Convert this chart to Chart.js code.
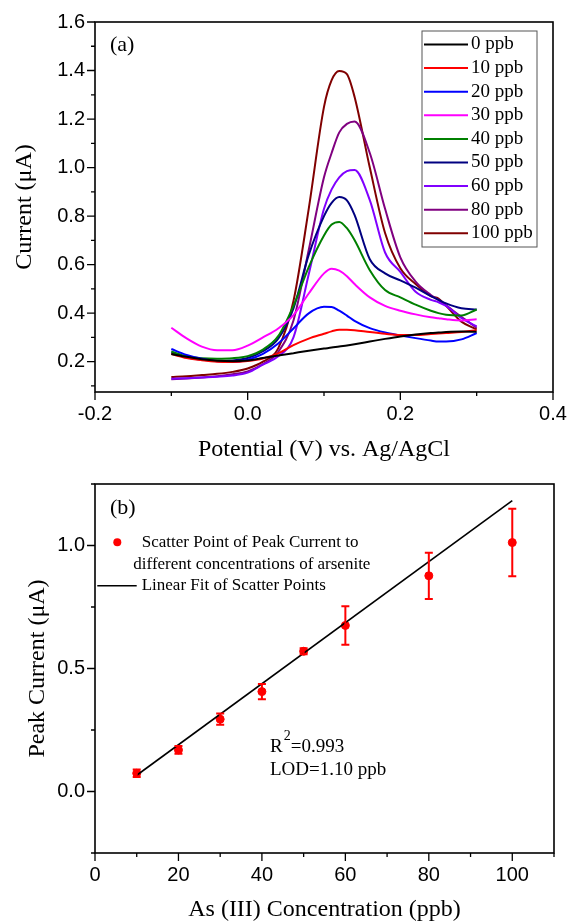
<!DOCTYPE html>
<html lang="en">
<head>
    <meta charset="UTF-8">
    <title>As(III) stripping response</title>
    <script src="https://cdn.jsdelivr.net/npm/chart.js"></script>
    <style>
        html, body { margin: 0; padding: 0; background: #fff; }
        canvas { display: block; }
    </style>
</head>
<body>
<canvas id="chartA" width="569" height="462"></canvas>
<canvas id="chartB" width="569" height="462"></canvas>
<script>
// ---- panel (a): DPV curves ----
const potential = [-0.1, -0.08, -0.06, -0.04, -0.02, 0, 0.02, 0.04, 0.06, 0.08, 0.1, 0.11, 0.12, 0.13, 0.14, 0.16, 0.18, 0.2, 0.22, 0.24, 0.25, 0.26, 0.28, 0.3];
const i0   = [0.232, 0.220, 0.210, 0.204, 0.202, 0.205, 0.215, 0.225, 0.235, 0.245, 0.254, 0.258, 0.263, 0.267, 0.272, 0.283, 0.294, 0.304, 0.312, 0.318, 0.320, 0.322, 0.324, 0.323];
const i10  = [0.231, 0.215, 0.206, 0.200, 0.199, 0.203, 0.213, 0.234, 0.268, 0.295, 0.315, 0.325, 0.332, 0.332, 0.330, 0.322, 0.315, 0.310, 0.310, 0.314, 0.316, 0.318, 0.322, 0.330];
const i20  = [0.252, 0.228, 0.212, 0.202, 0.199, 0.208, 0.232, 0.275, 0.337, 0.399, 0.426, 0.425, 0.410, 0.390, 0.368, 0.338, 0.320, 0.308, 0.297, 0.287, 0.283, 0.283, 0.292, 0.318];
const i30  = [0.340, 0.296, 0.262, 0.247, 0.247, 0.266, 0.300, 0.337, 0.392, 0.481, 0.564, 0.583, 0.575, 0.552, 0.520, 0.465, 0.430, 0.410, 0.395, 0.383, 0.379, 0.375, 0.370, 0.375];
const i40  = [0.242, 0.222, 0.214, 0.212, 0.214, 0.223, 0.250, 0.305, 0.430, 0.590, 0.720, 0.765, 0.776, 0.750, 0.701, 0.577, 0.495, 0.465, 0.435, 0.410, 0.400, 0.393, 0.390, 0.415];
const i50  = [0.238, 0.218, 0.208, 0.204, 0.205, 0.215, 0.243, 0.295, 0.420, 0.640, 0.800, 0.855, 0.879, 0.865, 0.805, 0.622, 0.564, 0.535, 0.505, 0.470, 0.455, 0.440, 0.420, 0.415];
const i60  = [0.130, 0.132, 0.135, 0.138, 0.143, 0.155, 0.188, 0.222, 0.300, 0.560, 0.830, 0.910, 0.960, 0.985, 0.990, 0.866, 0.650, 0.570, 0.488, 0.455, 0.445, 0.430, 0.380, 0.345];
const i80  = [0.128, 0.131, 0.135, 0.140, 0.148, 0.160, 0.190, 0.240, 0.370, 0.660, 0.960, 1.060, 1.145, 1.180, 1.190, 1.060, 0.830, 0.630, 0.530, 0.475, 0.455, 0.432, 0.385, 0.340];
const i100 = [0.137, 0.140, 0.145, 0.150, 0.158, 0.172, 0.200, 0.255, 0.450, 0.830, 1.250, 1.360, 1.398, 1.385, 1.292, 1.000, 0.730, 0.585, 0.520, 0.470, 0.460, 0.430, 0.365, 0.333];
const curveLabels = ['0 ppb', '10 ppb', '20 ppb', '30 ppb', '40 ppb', '50 ppb', '60 ppb', '80 ppb', '100 ppb'];
const curves = [i0, i10, i20, i30, i40, i50, i60, i80, i100];
const curveColors = ['#000000', '#ff0000', '#0000ff', '#ff00ff', '#008000', '#000080', '#8000ff', '#800080', '#800000'];
const xTicksA = [-0.2, 0, 0.2, 0.4];
const xMinorA = [-0.1, 0.1, 0.3];
const yTicksA = [0.2, 0.4, 0.6, 0.8, 1.0, 1.2, 1.4, 1.6];
const yMinorA = [0.1, 0.3, 0.5, 0.7, 0.9, 1.1, 1.3, 1.5];

// ---- panel (b): calibration ----
const conc = [10, 20, 30, 40, 50, 60, 80, 100];
const peakCurrent = [0.074, 0.169, 0.294, 0.406, 0.570, 0.675, 0.877, 1.012];
const peakErr = [0.015, 0.016, 0.023, 0.031, 0.012, 0.078, 0.094, 0.137];
const fitX = [10, 100];
const fitY = [0.066, 1.182];
const xTicksB = [0, 20, 40, 60, 80, 100];
const xMinorB = [10, 30, 50, 70, 90, 110];
const yTicksB = [0, 0.5, 1.0];
const yMinorB = [-0.25, 0.25, 0.75, 1.25];

const SERIF = "'Liberation Serif', 'Times New Roman', serif";
const SANS = "'Liberation Sans', Arial, sans-serif";

// box round the plot + outward tick marks (major 8px, minor 4px)
function framePlugin(xMinor, yMinor) {
    return {
        id: 'frame',
        afterDraw(chart) {
            const { ctx, chartArea: a, scales: { x, y } } = chart;
            ctx.save();
            ctx.strokeStyle = '#000';
            ctx.lineWidth = 1.6;
            ctx.strokeRect(a.left, a.top, a.right - a.left, a.bottom - a.top);
            ctx.lineWidth = 1.3;
            ctx.beginPath();
            x.ticks.forEach(t => { const p = x.getPixelForValue(t.value); ctx.moveTo(p, a.bottom); ctx.lineTo(p, a.bottom + 8); });
            xMinor.forEach(v => { const p = x.getPixelForValue(v); ctx.moveTo(p, a.bottom); ctx.lineTo(p, a.bottom + 4); });
            y.ticks.forEach(t => { const p = y.getPixelForValue(t.value); ctx.moveTo(a.left, p); ctx.lineTo(a.left - 8, p); });
            yMinor.forEach(v => { const p = y.getPixelForValue(v); ctx.moveTo(a.left, p); ctx.lineTo(a.left - 4, p); });
            ctx.stroke();
            ctx.restore();
        }
    };
}

function axis(min, max, ticks, title, size, titlePad, fmt) {
    return {
        type: 'linear', min: min, max: max,
        afterBuildTicks: s => { s.ticks = ticks.map(v => ({ value: v })); },
        afterFit: s => {
            if (s.isHorizontal()) s.height = size; else s.width = size;
            // keep the plot box where the layout padding puts it
            s.paddingLeft = 0; s.paddingRight = 0; s.paddingTop = 0; s.paddingBottom = 0;
        },
        grid: { display: false, drawTicks: false },
        border: { display: false },
        ticks: { padding: 10, color: '#000', font: { family: SANS, size: 20 }, callback: fmt },
        title: { display: true, text: title, color: '#000', font: { family: SERIF, size: 24, lineHeight: 1 }, padding: titlePad }
    };
}

const legendA = {
    id: 'legendA',
    afterDraw(chart) {
        const { ctx, chartArea: a } = chart;
        const bx = a.right - 131, by = a.top + 9;
        ctx.save();
        ctx.strokeStyle = '#555';
        ctx.lineWidth = 1;
        ctx.strokeRect(bx, by, 115, 216);
        ctx.font = '19px ' + SERIF;
        ctx.textBaseline = 'middle';
        ctx.fillStyle = '#000';
        chart.data.datasets.forEach((d, i) => {
            const yy = by + 13.5 + i * 23.6;
            ctx.strokeStyle = d.borderColor;
            ctx.lineWidth = 2;
            ctx.beginPath();
            ctx.moveTo(bx + 2, yy);
            ctx.lineTo(bx + 46, yy);
            ctx.stroke();
            ctx.fillText(d.label, bx + 49, yy);
        });
        ctx.font = '22px ' + SERIF;
        ctx.fillText('(a)', a.left + 15, a.top + 23);
        ctx.restore();
    }
};

new Chart(document.getElementById('chartA'), {
    type: 'line',
    data: {
        datasets: curves.map((c, i) => ({
            label: curveLabels[i],
            data: potential.map((p, j) => ({ x: p, y: c[j] })),
            borderColor: curveColors[i],
            borderWidth: 2,
            pointRadius: 0,
            cubicInterpolationMode: 'monotone',
            fill: false
        }))
    },
    options: {
        responsive: false,
        animation: false,
        layout: { padding: { top: 22, right: 16, left: 0, bottom: 0 } },
        plugins: { legend: { display: false }, tooltip: { enabled: false } },
        scales: {
            x: axis(-0.2, 0.4, xTicksA, 'Potential (V) vs. Ag/AgCl', 70, { top: 0, bottom: 0 }, v => v.toFixed(1)),
            y: axis(0.075, 1.6, yTicksA, 'Current (\u03bcA)', 95, { top: 12.5, bottom: 0 }, v => v.toFixed(1))
        }
    },
    plugins: [framePlugin(xMinorA, yMinorA), legendA]
});

const errorBars = {
    id: 'errorBars',
    afterDatasetsDraw(chart) {
        const { ctx, scales: { x, y } } = chart;
        ctx.save();
        ctx.strokeStyle = '#ff0000';
        ctx.lineWidth = 2;
        ctx.beginPath();
        conc.forEach((c, i) => {
            const px = x.getPixelForValue(c);
            const top = y.getPixelForValue(peakCurrent[i] + peakErr[i]);
            const bot = y.getPixelForValue(peakCurrent[i] - peakErr[i]);
            ctx.moveTo(px, top); ctx.lineTo(px, bot);
            ctx.moveTo(px - 4, top); ctx.lineTo(px + 4, top);
            ctx.moveTo(px - 4, bot); ctx.lineTo(px + 4, bot);
        });
        ctx.stroke();
        ctx.restore();
    }
};

const legendB = {
    id: 'legendB',
    afterDraw(chart) {
        const { ctx, chartArea: a } = chart;
        ctx.save();
        ctx.fillStyle = '#ff0000';
        ctx.beginPath();
        ctx.arc(a.left + 22.3, a.top + 58.3, 4, 0, Math.PI * 2);
        ctx.fill();
        ctx.strokeStyle = '#000';
        ctx.lineWidth = 1.6;
        ctx.beginPath();
        ctx.moveTo(a.left + 2.3, a.top + 101.7);
        ctx.lineTo(a.left + 41.7, a.top + 101.7);
        ctx.stroke();
        ctx.fillStyle = '#000';
        ctx.textBaseline = 'middle';
        ctx.font = '17px ' + SERIF;
        ctx.fillText('Scatter Point of Peak Current to', a.left + 46.7, a.top + 58.3);
        ctx.fillText('different concentrations of arsenite', a.left + 38.3, a.top + 80.3);
        ctx.fillText('Linear Fit of Scatter Points', a.left + 46.7, a.top + 101.7);
        ctx.font = '22px ' + SERIF;
        ctx.fillText('(b)', a.left + 15, a.top + 24);
        // R^2 and LOD
        let tx = a.left + 175;
        const ry = a.top + 262.7;
        ctx.font = '19px ' + SERIF;
        ctx.fillText('R', tx, ry);
        tx += ctx.measureText('R').width + 1;
        ctx.font = '14px ' + SERIF;
        ctx.fillText('2', tx, ry - 10);
        tx += ctx.measureText('2').width;
        ctx.font = '19px ' + SERIF;
        ctx.fillText('=0.993', tx, ry);
        ctx.fillText('LOD=1.10 ppb', a.left + 175, a.top + 286);
        ctx.restore();
    }
};

new Chart(document.getElementById('chartB'), {
    type: 'scatter',
    data: {
        datasets: [
            {
                label: 'Linear Fit of Scatter Points',
                data: fitX.map((v, i) => ({ x: v, y: fitY[i] })),
                showLine: true,
                borderColor: '#000',
                borderWidth: 1.6,
                pointRadius: 0
            },
            {
                label: 'Scatter Point of Peak Current to different concentrations of arsenite',
                data: conc.map((c, i) => ({ x: c, y: peakCurrent[i] })),
                backgroundColor: '#ff0000',
                borderColor: '#ff0000',
                pointRadius: 4
            }
        ]
    },
    options: {
        responsive: false,
        animation: false,
        layout: { padding: { top: 22, right: 15, left: 0, bottom: 0 } },
        plugins: { legend: { display: false }, tooltip: { enabled: false } },
        scales: {
            x: axis(0, 110, xTicksB, 'As (III) Concentration (ppb)', 71, { top: 0, bottom: 2 }, v => String(v)),
            y: axis(-0.25, 1.25, yTicksB, 'Peak Current (\u03bcA)', 95, { top: 26, bottom: 0 }, v => v.toFixed(1))
        }
    },
    plugins: [framePlugin(xMinorB, yMinorB), errorBars, legendB]
});
</script>
</body>
</html>
